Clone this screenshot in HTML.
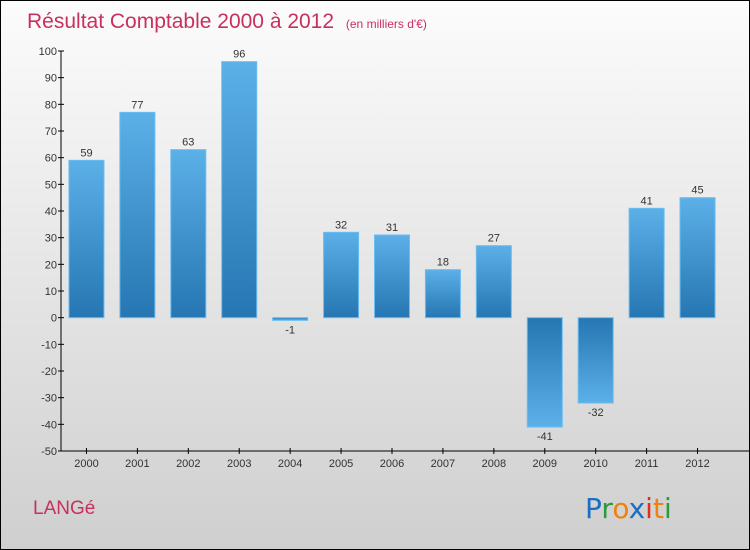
<!DOCTYPE html>
<html><head><meta charset="utf-8"><style>
body{margin:0}
#c{width:750px;height:550px;position:relative;box-sizing:border-box;border:1px solid #000;background:linear-gradient(#fcfcfc,#cfcfcf);font-family:"Liberation Sans",sans-serif;overflow:hidden}
svg{position:absolute;left:0;top:0}
</style></head><body>
<div id="c">
<svg id="s" width="750" height="550">
<defs>
<linearGradient id="gp" x1="0" y1="0" x2="0" y2="1"><stop offset="0" stop-color="#5cb0e8"/><stop offset="1" stop-color="#2576b2"/></linearGradient>
<linearGradient id="gn" x1="0" y1="0" x2="0" y2="1"><stop offset="0" stop-color="#2576b2"/><stop offset="1" stop-color="#5cb0e8"/></linearGradient>
</defs>
<text x="26" y="27" font-size="21" fill="#c8305e">Résultat Comptable 2000 à 2012 <tspan font-size="12" dx="6">(en milliers d'€)</tspan></text>
<text x="32" y="513" font-size="19" fill="#c8305e">LANGé</text>
<g font-size="28" font-family="'DejaVu Sans',sans-serif">
<text x="584" y="517"><tspan fill="#1a6fc4">P</tspan><tspan fill="#2a9a3a">r</tspan><tspan fill="#f08010">o</tspan><tspan fill="#1a6fc4">x</tspan><tspan fill="#e03010">i</tspan><tspan fill="#f08010">t</tspan><tspan fill="#2a9a3a">i</tspan></text>
</g>
<g id="g"></g>
</svg>
</div>
<script>
const categories=["2000","2001","2002","2003","2004","2005","2006","2007","2008","2009","2010","2011","2012"];
const values=[59,77,63,96,-1,32,31,18,27,-41,-32,41,45];
const yTicks=[100,90,80,70,60,50,40,30,20,10,0,-10,-20,-30,-40,-50];
const ns="http://www.w3.org/2000/svg";
const g=document.getElementById('g');
const x0=60,x1=722,yTop=50,yBot=450,vMax=100,vMin=-50;
const step=(x1-x0)/categories.length;
function y(v){return yTop+(vMax-v)*(yBot-yTop)/(vMax-vMin);}
function xc(i){return x0+step*(i+0.5);}
function mk(t,a){const e=document.createElementNS(ns,t);for(const k in a)e.setAttribute(k,a[k]);g.appendChild(e);return e;}
let ax=mk('line',{x1:x0,y1:yTop,x2:x0,y2:yBot,stroke:'#000'});


let bx=mk('line',{x1:x0,y1:yBot,x2:x1+28,y2:yBot,stroke:'#000'});


yTicks.forEach(v=>{
 const tk=mk('line',{x1:x0-3,y1:y(v),x2:x0+3,y2:y(v),stroke:'#000'});
 
 
 const t=mk('text',{x:x0-4,y:y(v)+4,'font-size':11,'text-anchor':'end',fill:'#333'});
 t.textContent=v;
 
 
});
categories.forEach((c,i)=>{
 const v=values[i],cx=xc(i),w=35;
 const top=Math.min(y(v),y(0)),h=Math.max(Math.abs(y(v)-y(0)),2);
 const r=mk('rect',{x:cx-w/2,y:top,width:w,height:h,fill:v>=0?'url(#gp)':'url(#gn)',stroke:'#6bbcf0','stroke-width':1});
 
 
 const tk=mk('line',{x1:cx,y1:yBot-3,x2:cx,y2:yBot+3,stroke:'#000'});
 
 
 const t=mk('text',{x:cx,y:yBot+16,'font-size':11,'text-anchor':'middle',fill:'#333'});
 t.textContent=c;
 
 
 const ly=v>=0?y(v)-4:Math.max(y(v),y(0)+2)+13;
 const l=mk('text',{x:cx,y:ly,'font-size':11,'text-anchor':'middle',fill:'#333'});
 l.textContent=v;
 
 
});
</script>
</body></html>
